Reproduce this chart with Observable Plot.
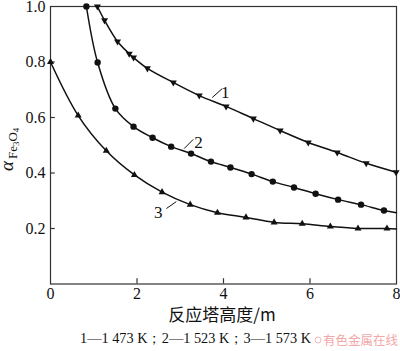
<!DOCTYPE html>
<html><head><meta charset="utf-8">
<script src="https://cdn.jsdelivr.net/npm/d3@7"></script>
<script src="https://cdn.jsdelivr.net/npm/@observablehq/plot@0.6"></script>
<style>
body{margin:0;background:#fff}
#chart{width:400px;height:351px;overflow:hidden}
</style>
</head><body><div id="chart"></div>
<script>
// Curve 1 (1473 K), down-triangles
const height1 = [1.085, 1.25, 1.55, 1.82, 1.92, 2.24, 2.84, 3.44, 4.06, 4.69, 5.31, 5.96, 6.63, 7.30, 7.99];
const alpha1  = [1.000, 0.950, 0.874, 0.830, 0.816, 0.777, 0.726, 0.679, 0.640, 0.596, 0.553, 0.510, 0.474, 0.435, 0.403];
// Curve 2 (1523 K), circles (last point = line end, unmarked)
const height2 = [0.83, 1.09, 1.50, 1.92, 2.36, 2.79, 3.25, 3.71, 4.16, 4.65, 5.14, 5.63, 6.13, 6.65, 7.18, 7.71, 8.00];
const alpha2  = [1.000, 0.798, 0.632, 0.567, 0.527, 0.495, 0.470, 0.441, 0.420, 0.396, 0.369, 0.348, 0.325, 0.304, 0.286, 0.265, 0.257];
// Curve 3 (1573 K), up-triangles (last point = line end, unmarked)
const height3 = [0.00, 0.64, 1.29, 1.94, 2.58, 3.23, 3.86, 4.52, 5.17, 5.82, 6.47, 7.11, 7.78, 8.00];
const alpha3  = [0.800, 0.607, 0.480, 0.393, 0.331, 0.286, 0.257, 0.240, 0.222, 0.217, 0.207, 0.200, 0.200, 0.198];
const markedCount = [15, 16, 13];

const xTicks = [0, 2, 4, 6, 8];
const yTicks = [0.2, 0.4, 0.6, 0.8, 1.0];

const curveLabels = ["1", "2", "3"];
const labelX = [4.04, 3.42, 2.49];
const labelY = [0.690, 0.510, 0.258];
const leadX1 = [3.74, 3.09, 2.68];
const leadY1 = [0.672, 0.488, 0.272];
const leadX2 = [3.97, 3.30, 2.91];
const leadY2 = [0.704, 0.521, 0.297];

const xLabel = "反应塔高度/m";
const yLabelMain = "α";
const yLabelSub = ["Fe", "3", "O", "4"];
const caption = "1—1 473 K；2—1 523 K；3—1 573 K";
const watermark = "有色金属在线";

const serif = "'Liberation Serif','Times New Roman',serif";
const cjk = "'Noto Sans CJK SC',sans-serif";
const ink = "#111";

const series = [
  {h: height1, a: alpha1},
  {h: height2, a: alpha2},
  {h: height3, a: alpha3}
];
const rows = series.flatMap((s, i) => s.h.map((h, j) => ({s: i + 1, h, a: s.a[j], marked: j < markedCount[i]})));
const pts = k => rows.filter(d => d.s === k && d.marked);
const labels = curveLabels.map((t, i) => ({t, x: labelX[i], y: labelY[i], x1: leadX1[i], y1: leadY1[i], x2: leadX2[i], y2: leadY2[i]}));

const W = 400, H = 351, mL = 50, mR = 4, mT = 6, mB = 67.5;

const yLabelRender = () => {
  const g = d3.create("svg:g");
  const t = g.append("text")
    .attr("transform", `translate(13,171) rotate(-90)`)
    .attr("text-anchor", "start")
    .attr("font-family", serif).attr("fill", ink);
  t.append("tspan").attr("font-size", 19).attr("font-style", "italic").text(yLabelMain);
  t.append("tspan").attr("font-size", 13).attr("dy", 4).attr("dx", 2).text(yLabelSub[0]);
  t.append("tspan").attr("font-size", 9).attr("dy", 2).text(yLabelSub[1]);
  t.append("tspan").attr("font-size", 13).attr("dy", -2).text(yLabelSub[2]);
  t.append("tspan").attr("font-size", 9).attr("dy", 2).text(yLabelSub[3]);
  return g.node();
};

const textRender = () => {
  const g = d3.create("svg:g");
  g.append("text").attr("x", 222).attr("y", 321).attr("text-anchor", "middle")
    .attr("font-family", cjk).attr("font-size", 17).attr("fill", ink).text(xLabel);
  g.append("text").attr("x", 80).attr("y", 343).attr("text-anchor", "start")
    .attr("textLength", 231).attr("lengthAdjust", "spacingAndGlyphs")
    .attr("font-family", serif).attr("font-size", 14).attr("fill", ink).text(caption);
  g.append("circle").attr("cx", 318).attr("cy", 340).attr("r", 3).attr("fill", "none").attr("stroke", "#f3b8b8");
  g.append("text").attr("x", 323).attr("y", 345).attr("text-anchor", "start")
    .attr("font-family", cjk).attr("font-size", 12.5)
    .attr("fill", "#f2a8a8").text(watermark);
  return g.node();
};

const chart = Plot.plot({
  width: W, height: H,
  marginLeft: mL, marginRight: mR, marginTop: mT, marginBottom: mB,
  style: {fontFamily: serif, background: "#fff", color: ink},
  x: {domain: [0, 8]},
  y: {domain: [0, 1]},
  marks: [
    Plot.frame({stroke: "#333", strokeWidth: 1.2}),
    Plot.ruleX(xTicks.slice(1, -1), {y1: 0, y2: 0.019, stroke: "#333", strokeWidth: 1.2}),
    Plot.ruleY(yTicks.slice(0, -1), {x1: 0, x2: 0.11, stroke: "#333", strokeWidth: 1.2}),
    Plot.axisX({ticks: xTicks, tickSize: 0, tickPadding: 4, fontSize: 16, label: null, tickFormat: d3.format("d")}),
    Plot.axisY({ticks: yTicks, tickSize: 0, tickPadding: 5, fontSize: 16, label: null, tickFormat: d3.format(".1f")}),
    Plot.line(rows, {x: "h", y: "a", z: "s", curve: "catmull-rom", stroke: ink, strokeWidth: 1.5}),
    Plot.dot(pts(1), {x: "h", y: "a", symbol: "triangle", rotate: 180, r: 2.6, fill: ink, stroke: "none"}),
    Plot.dot(pts(2), {x: "h", y: "a", symbol: "circle", r: 3.2, fill: ink, stroke: "none"}),
    Plot.dot(pts(3), {x: "h", y: "a", symbol: "triangle", r: 2.6, fill: ink, stroke: "none"}),
    Plot.link(labels, {x1: "x1", y1: "y1", x2: "x2", y2: "y2", stroke: ink, strokeWidth: 1}),
    Plot.text(labels, {x: "x", y: "y", text: "t", fontSize: 17, fill: ink}),
    yLabelRender,
    textRender
  ]
});
// force a serif face on every Plot-generated text that has no explicit family
d3.select(chart).selectAll("text").each(function () {
  if (!this.getAttribute("font-family") && !(this.parentNode && this.parentNode.getAttribute && this.parentNode.getAttribute("font-family") && this.parentNode.tagName === "text")) {
    this.style.fontFamily = serif;
    this.style.fontVariant = "normal";
    this.style.fontVariantNumeric = "normal";
  }
});
document.getElementById("chart").append(chart);
</script>
</body></html>
